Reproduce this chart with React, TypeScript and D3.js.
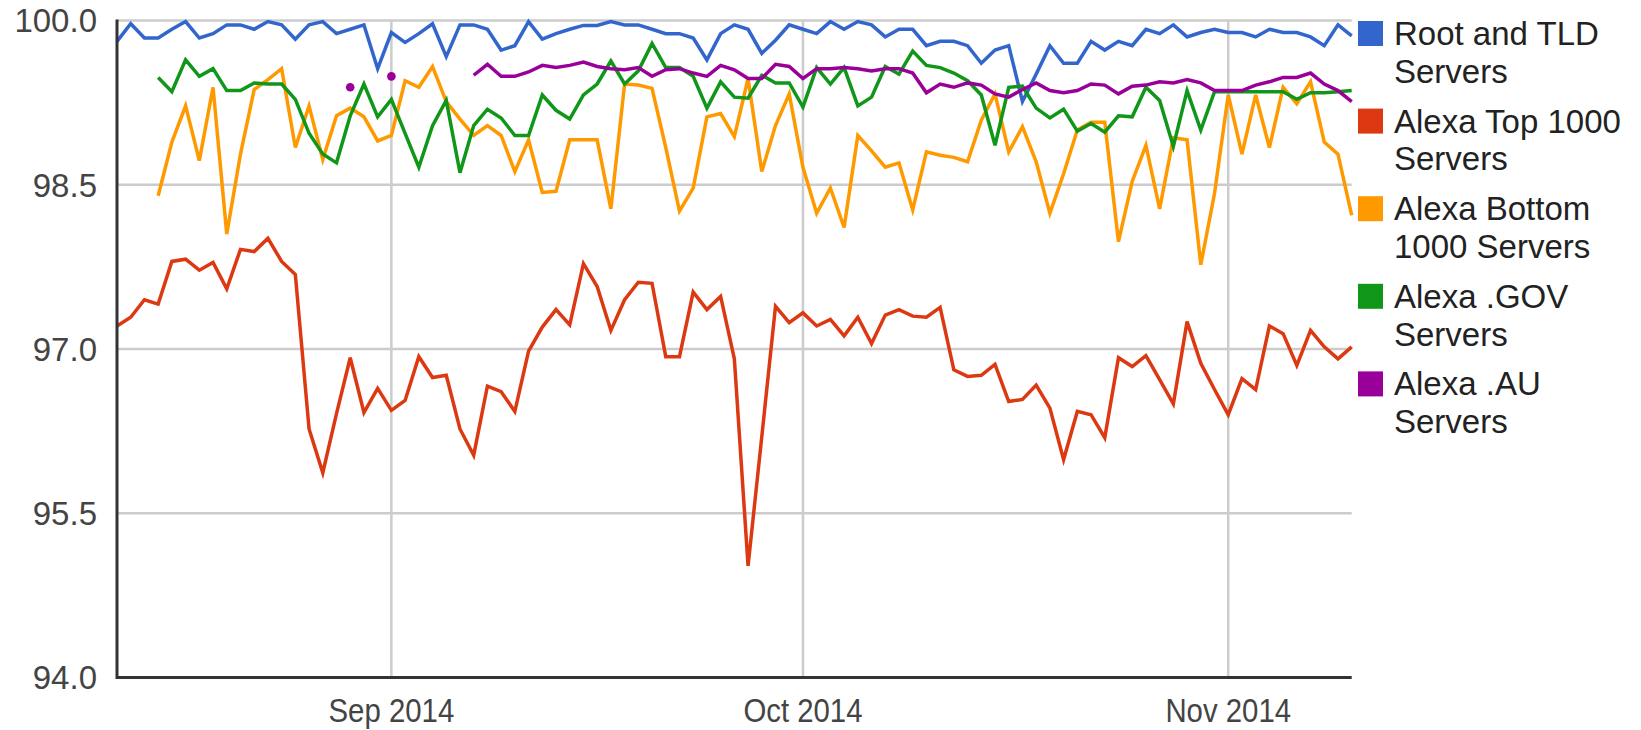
import * as d3 from 'd3'
import React from 'react'

// daily samples, Aug 12 2014 .. Nov 10 2014
const startDay = new Date(2014, 7, 12)
const endDay = new Date(2014, 10, 10)

const seriesNames = [
  ['Root and TLD', 'Servers'],
  ['Alexa Top 1000', 'Servers'],
  ['Alexa Bottom', '1000 Servers'],
  ['Alexa .GOV', 'Servers'],
  ['Alexa .AU', 'Servers']
]
const seriesColors = ['#3366cc', '#dc3912', '#ff9900', '#109618', '#990099']

const rootTld = [
  99.81, 99.97, 99.84, 99.84, 99.92, 99.99, 99.84, 99.88, 99.96, 99.96, 99.92, 99.99, 99.96, 99.83, 99.96, 99.99, 99.88, 99.92, 99.96, 99.56, 99.89, 99.80, 99.88,
  99.97, 99.67, 99.96, 99.96, 99.92, 99.73, 99.77, 99.99, 99.83, 99.88, 99.92, 99.955, 99.955, 99.99, 99.96, 99.96, 99.92, 99.88, 99.88, 99.84, 99.64, 99.88,
  99.96, 99.92, 99.70, 99.82, 99.96, 99.92, 99.88, 99.99, 99.92, 99.99, 99.96, 99.85, 99.92, 99.92, 99.77, 99.81, 99.81, 99.77, 99.61, 99.73, 99.77, 99.26,
  99.51, 99.77, 99.61, 99.61, 99.81, 99.73, 99.81, 99.77, 99.92, 99.88, 99.96, 99.85, 99.89, 99.92, 99.89, 99.89, 99.85, 99.92, 99.89, 99.89, 99.85, 99.77, 99.96, 99.86
]
const alexaTop = [
  97.21, 97.29, 97.45, 97.41, 97.80, 97.82, 97.72, 97.79, 97.55, 97.91, 97.89, 98.01, 97.80, 97.68, 96.27, 95.87, 96.41, 96.92, 96.42, 96.64, 96.44, 96.53, 96.93,
  96.74, 96.76, 96.27, 96.03, 96.66, 96.61, 96.43, 96.98, 97.20, 97.36, 97.22, 97.78, 97.57, 97.17, 97.45, 97.61, 97.60, 96.93, 96.93, 97.52, 97.36, 97.48,
  96.91, 95.02, 96.20, 97.39, 97.24, 97.33, 97.21, 97.27, 97.12, 97.29, 97.05, 97.31, 97.36, 97.30, 97.29, 97.38, 96.81, 96.75, 96.76, 96.86, 96.52, 96.54,
  96.67, 96.46, 95.99, 96.43, 96.40, 96.19, 96.92, 96.84, 96.94, 96.72, 96.50, 97.25, 96.87, 96.63, 96.40, 96.73, 96.63, 97.21, 97.14, 96.85, 97.17, 97.02, 96.91, 97.02
]
const alexaBottom = [
  null, null, null,
  98.40, 98.89, 99.22, 98.72, 99.39, 98.05, 98.78, 99.37, 99.46, 99.56, 98.84, 99.22, 98.73, 99.13, 99.20, 99.12, 98.90, 98.95, 99.45, 99.39,
  99.58, 99.26, 99.10, 98.95, 99.04, 98.95, 98.62, 98.91, 98.43, 98.44, 98.91, 98.91, 98.91, 98.28, 99.42, 99.41, 99.38, 98.84, 98.26, 98.47, 99.12, 99.15,
  98.94, 99.47, 98.62, 99.04, 99.33, 98.66, 98.24, 98.47, 98.11, 98.95, 98.81, 98.66, 98.70, 98.27, 98.80, 98.77, 98.75, 98.71, 99.09, 99.33, 98.80, 99.03,
  98.71, 98.24, 98.60, 99.00, 99.07, 99.07, 97.98, 98.53, 98.86, 98.28, 98.93, 98.91, 97.77, 98.42, 99.32, 98.78, 99.32, 98.84, 99.39, 99.24, 99.44, 98.89, 98.78, 98.22
]
const alexaGov = [
  null, null, null,
  99.48, 99.35, 99.64, 99.49, 99.56, 99.36, 99.36, 99.43, 99.42, 99.42, 99.28, 98.97, 98.78, 98.70, 99.13, 99.42, 99.12, 99.28, 98.97, 98.66,
  99.04, 99.27, 98.61, 99.04, 99.19, 99.11, 98.95, 98.95, 99.32, 99.18, 99.10, 99.32, 99.42, 99.63, 99.42, 99.54, 99.79, 99.57, 99.57, 99.49, 99.20, 99.44,
  99.30, 99.29, 99.50, 99.43, 99.43, 99.21, 99.57, 99.42, 99.57, 99.22, 99.30, 99.58, 99.51, 99.72, 99.59, 99.57, 99.52, 99.45, 99.32, 98.86, 99.39, 99.40,
  99.20, 99.11, 99.19, 98.99, 99.06, 98.98, 99.13, 99.12, 99.39, 99.27, 98.85, 99.36, 99.00, 99.35, 99.35, 99.35, 99.35, 99.35, 99.35, 99.28, 99.34, 99.34, 99.35, 99.36
]
const alexaAu = [
  null, null, null, null, null, null, null, null, null, null, null, null, null, null, null, null, null,
  99.39, null, null, 99.49, null, null, null, null, null,
  99.50, 99.60, 99.49, 99.49, 99.53, 99.59, 99.57, 99.59, 99.62, 99.58, 99.56, 99.55, 99.57, 99.49, 99.55, 99.56, 99.52, 99.49, 99.59,
  99.55, 99.47, 99.47, 99.60, 99.58, 99.47, 99.56, 99.56, 99.57, 99.56, 99.54, 99.56, 99.56, 99.52, 99.34, 99.42, 99.39, 99.43, 99.41, 99.33, 99.30, 99.37,
  99.43, 99.36, 99.34, 99.36, 99.42, 99.41, 99.33, 99.40, 99.41, 99.44, 99.43, 99.46, 99.43, 99.36, 99.36, 99.36, 99.41, 99.44, 99.48, 99.48, 99.52, 99.42, 99.36, 99.26
]
const allSeries = [rootTld, alexaTop, alexaBottom, alexaGov, alexaAu]

const yTicks = [94, 95.5, 97, 98.5, 100]

const W = 1641
const H = 730
const left = 117
const right = 1351.7
const top = 20.5
const bottom = 677.5
const FONT = '"Liberation Sans", Arial, sans-serif'

export default function App () {
  const days = d3.timeDay.range(startDay, d3.timeDay.offset(endDay, 1))
  const x = d3.scaleTime().domain([startDay, endDay]).range([left, right])
  const y = d3.scaleLinear().domain([94, 100]).range([bottom, top])
  const monthTicks = d3.timeMonth.range(d3.timeMonth.ceil(startDay), endDay)
  const fmtMonth = d3.timeFormat('%b %Y')

  const line = d3.line()
    .defined(d => d[1] != null)
    .x(d => x(d[0]))
    .y(d => y(d[1]))

  return (
    <svg width={W} height={H} style={{ position: 'absolute', left: 0, top: 0, display: 'block', background: '#fff' }}>
      {/* gridlines */}
      {yTicks.filter(t => t > 94).map(t => (
        <line key={'h' + t} x1={left} x2={right} y1={y(t)} y2={y(t)} stroke='#cccccc' strokeWidth={2.5} />
      ))}
      {monthTicks.map(d => (
        <line key={'v' + d} x1={x(d)} x2={x(d)} y1={top} y2={bottom} stroke='#cccccc' strokeWidth={2.5} />
      ))}

      {/* series */}
      {allSeries.map((vals, s) => {
        const pts = days.map((d, i) => [d, vals[i]])
        const lonely = pts.filter((p, i) => p[1] != null && vals[i - 1] == null && vals[i + 1] == null)
        return (
          <g key={s}>
            <path d={line(pts)} fill='none' stroke={seriesColors[s]} strokeWidth={3.5} strokeLinejoin='miter' />
            {lonely.map((p, k) => (
              <circle key={k} cx={x(p[0])} cy={y(p[1])} r={4.3} fill={seriesColors[s]} />
            ))}
          </g>
        )
      })}

      {/* axes */}
      <line x1={left} x2={right} y1={bottom} y2={bottom} stroke='#333333' strokeWidth={3} />
      <line x1={left} x2={left} y1={top - 1} y2={bottom + 1.5} stroke='#333333' strokeWidth={3} />

      {yTicks.map(t => (
        <text key={'yl' + t} x={97} y={y(t)} dy='0.36em' textAnchor='end' fontFamily={FONT} fontSize={33} fill='#444444'>
          {d3.format('.1f')(t)}
        </text>
      ))}
      {monthTicks.map(d => (
        <text key={'xl' + d} transform={`translate(${x(d)},722) scale(0.89,1)`} textAnchor='middle' fontFamily={FONT} fontSize={33} fill='#444444'>
          {fmtMonth(d)}
        </text>
      ))}

      {/* legend */}
      {seriesNames.map((nm, s) => {
        const oy = 19 + s * 87.6
        return (
          <g key={'lg' + s}>
            <rect x={1358} y={oy + 2} width={25} height={25} fill={seriesColors[s]} />
            <text x={1394} y={oy + 26} fontFamily={FONT} fontSize={33} fill='#222222'>{nm[0]}</text>
            <text x={1394} y={oy + 63.7} fontFamily={FONT} fontSize={33} fill='#222222'>{nm[1]}</text>
          </g>
        )
      })}
    </svg>
  )
}
